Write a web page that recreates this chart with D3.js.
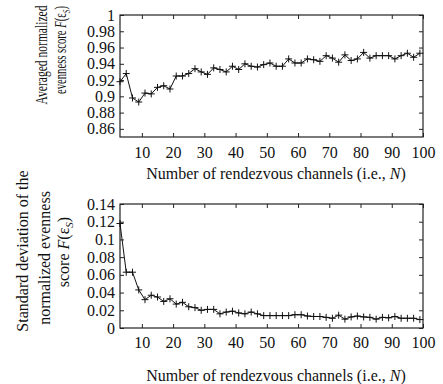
<!DOCTYPE html>
<html>
<head>
<meta charset="utf-8">
<script src="https://cdn.jsdelivr.net/npm/d3@7"></script>
<style>
  body { margin: 0; background: #fff; }
  svg { display: block; }
  text { font-family: "Liberation Serif", "Times New Roman", serif; fill: #111; }
  .tick text { font-size: 16px; }
</style>
</head>
<body>
<div id="chart"></div>
<script>
// number of rendezvous channels (x values)
const channels = [3, 5, 7, 9, 11, 13, 15, 17, 19, 21, 23, 25, 27, 29, 31, 33, 35, 37, 39, 41,
  43, 45, 47, 49, 51, 53, 55, 57, 59, 61, 63, 65, 67, 69, 71, 73, 75, 77, 79, 81,
  83, 85, 87, 89, 91, 93, 95, 97, 99];

// averaged normalized evenness score
const avgScore = [0.918, 0.928, 0.898, 0.893, 0.904, 0.903, 0.911, 0.913, 0.909, 0.925,
  0.925, 0.928, 0.934, 0.930, 0.927, 0.935, 0.933, 0.930, 0.937, 0.933,
  0.940, 0.937, 0.936, 0.939, 0.941, 0.937, 0.937, 0.946, 0.941, 0.941,
  0.946, 0.945, 0.943, 0.950, 0.947, 0.942, 0.951, 0.944, 0.946, 0.954,
  0.947, 0.950, 0.950, 0.950, 0.946, 0.950, 0.953, 0.948, 0.953];

// standard deviation of the normalized evenness score
const stdScore = [0.118, 0.063, 0.063, 0.043, 0.032, 0.037, 0.035, 0.030, 0.033, 0.027,
  0.029, 0.024, 0.023, 0.020, 0.021, 0.021, 0.016, 0.018, 0.019, 0.017,
  0.016, 0.018, 0.016, 0.014, 0.014, 0.014, 0.014, 0.014, 0.015, 0.015,
  0.0135, 0.013, 0.013, 0.012, 0.011, 0.0145, 0.010, 0.0125, 0.0135, 0.0125,
  0.012, 0.010, 0.012, 0.0115, 0.013, 0.011, 0.011, 0.011, 0.0095];

// tick values and labels
const xTicks = [10, 20, 30, 40, 50, 60, 70, 80, 90, 100];
const xTickLabels = ['10', '20', '30', '40', '50', '60', '70', '80', '90', '100'];
const avgTicks = [0.86, 0.88, 0.9, 0.92, 0.94, 0.96, 0.98, 1];
const avgTickLabels = ['0.86', '0.88', '0.9', '0.92', '0.94', '0.96', '0.98', '1'];
const stdTicks = [0, 0.02, 0.04, 0.06, 0.08, 0.1, 0.12, 0.14];
const stdTickLabels = ['0', '0.02', '0.04', '0.06', '0.08', '0.1', '0.12', '0.14'];

const width = 443, height = 384;
const left = 120, right = 423;

const svg = d3.select('#chart').append('svg')
  .attr('width', width)
  .attr('height', height);

const x = d3.scaleLinear().domain([3, 100]).range([left, right]);

function panel(cfg) {
  const y = d3.scaleLinear().domain(cfg.domain).range([cfg.bottom, cfg.top]);
  const g = svg.append('g');

  // inward ticks on all four sides
  g.append('g')
    .attr('transform', `translate(0, ${cfg.bottom})`)
    .call(d3.axisBottom(x).tickValues(xTicks).tickSize(-4).tickPadding(cfg.xPad)
      .tickFormat((d, i) => xTickLabels[i]))
    .call(a => a.select('.domain').remove());
  g.append('g')
    .attr('transform', `translate(0, ${cfg.top})`)
    .call(d3.axisTop(x).tickValues(xTicks).tickSize(-4).tickFormat(''))
    .call(a => a.select('.domain').remove());
  g.append('g')
    .attr('transform', `translate(${left}, 0)`)
    .call(d3.axisLeft(y).tickValues(cfg.ticks).tickSize(-4).tickPadding(5)
      .tickFormat((d, i) => cfg.labels[i]))
    .call(a => a.select('.domain').remove());
  g.append('g')
    .attr('transform', `translate(${right}, 0)`)
    .call(d3.axisRight(y).tickValues(cfg.ticks).tickSize(-4).tickFormat(''))
    .call(a => a.select('.domain').remove());

  g.selectAll('.tick line').attr('stroke', '#222');
  g.selectAll('.tick text').attr('fill', '#111');

  g.append('rect')
    .attr('x', left).attr('y', cfg.top)
    .attr('width', right - left).attr('height', cfg.bottom - cfg.top)
    .attr('fill', 'none').attr('stroke', '#222').attr('stroke-width', 1.2);

  const pts = channels.map((n, i) => [n, cfg.values[i]]);

  g.append('path')
    .datum(pts)
    .attr('fill', 'none')
    .attr('stroke', '#111')
    .attr('stroke-width', 1)
    .attr('d', d3.line().x(d => x(d[0])).y(d => y(d[1])));

  g.selectAll('.mark')
    .data(pts)
    .enter().append('path')
    .attr('class', 'mark')
    .attr('transform', d => `translate(${x(d[0])}, ${y(d[1])})`)
    .attr('d', 'M-3.5,0H3.5M0,-3.5V3.5')
    .attr('stroke', '#111')
    .attr('stroke-width', 1);

  // x axis title
  const xt = g.append('text')
    .attr('x', 276).attr('y', cfg.titleY)
    .attr('text-anchor', 'middle')
    .style('font-size', '16px');
  xt.append('tspan').text('Number of rendezvous channels (i.e., ');
  xt.append('tspan').style('font-style', 'italic').text('N');
  xt.append('tspan').text(')');

  // y axis title lines (top ones are squeezed along their length)
  cfg.yLines.forEach(l => {
    const t = g.append('text')
      .attr('text-anchor', 'middle')
      .style('font-size', '16px');
    t.append('tspan').text(l.text);
    if (l.score) {
      t.append('tspan').style('font-style', 'italic').text('F');
      t.append('tspan').text('(ε');
      t.append('tspan').attr('dy', 4).style('font-size', '11px').style('font-style', 'italic').text('S');
      t.append('tspan').attr('dy', -4).text(')');
    }
    const k = l.len ? l.len / t.node().getComputedTextLength() : 1;
    t.attr('transform', `translate(${l.x}, ${l.y}) rotate(-90) scale(${k}, 1)`);
  });
}

panel({
  domain: [0.85, 1], top: 15, bottom: 137,
  values: avgScore, ticks: avgTicks, labels: avgTickLabels,
  xPad: 10, titleY: 179,
  yLines: [
    { x: 47, y: 55, text: 'Averaged normalized', len: 99 },
    { x: 66, y: 50, text: 'evenness score ', score: true, len: 88 }
  ]
});

panel({
  domain: [0, 0.14], top: 204, bottom: 328,
  values: stdScore, ticks: stdTicks, labels: stdTickLabels,
  xPad: 9, titleY: 381,
  yLines: [
    { x: 28, y: 251, text: 'Standard deviation of the' },
    { x: 50, y: 258, text: 'normalized evenness' },
    { x: 69, y: 252, text: 'score ', score: true }
  ]
});
</script>
</body>
</html>
